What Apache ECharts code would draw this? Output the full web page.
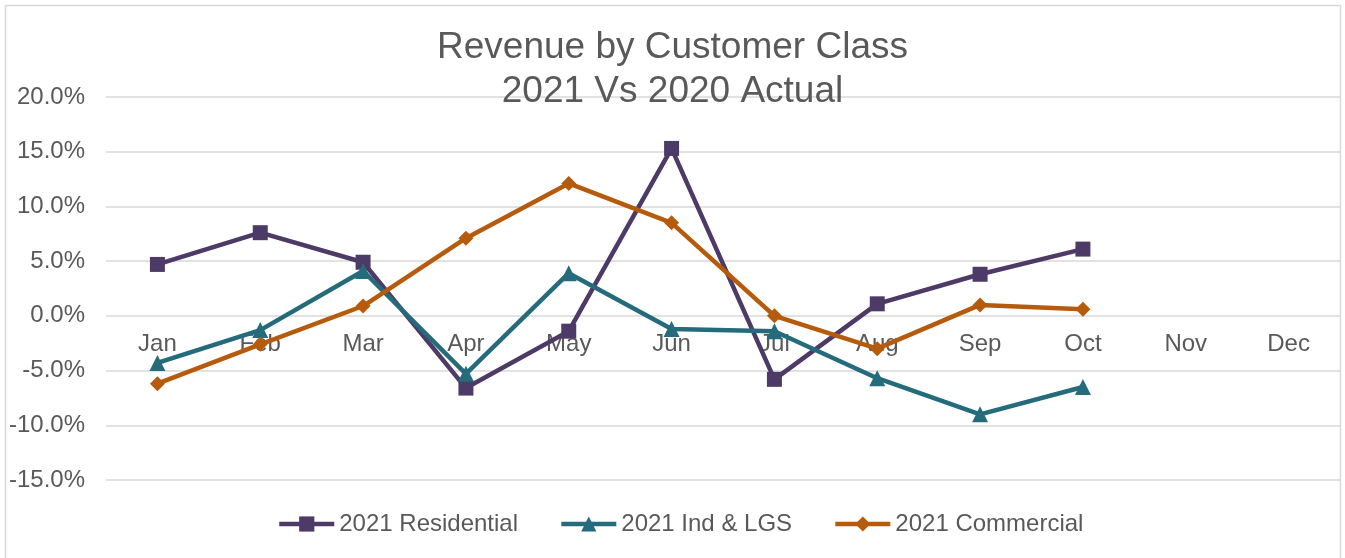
<!DOCTYPE html>
<html>
<head>
<meta charset="utf-8">
<script src="https://cdn.jsdelivr.net/npm/echarts@6/dist/echarts.min.js"></script>
<style>
html,body{margin:0;padding:0;background:#fff;}
#chart{width:1345px;height:558px;}
</style>
</head>
<body>
<div id="chart"></div>
<script>
const titleText = 'Revenue by Customer Class\n2021 Vs 2020 Actual';
const months = ['Jan','Feb','Mar','Apr','May','Jun','Jul','Aug','Sep','Oct','Nov','Dec'];
const residential = [4.7, 7.6, 4.9, -6.6, -1.4, 15.3, -5.8, 1.1, 3.8, 6.1, null, null];
const indLgs = [-4.3, -1.3, 4.1, -5.3, 3.9, -1.2, -1.4, -5.7, -9.0, -6.5, null, null];
const commercial = [-6.2, -2.6, 0.9, 7.1, 12.1, 8.5, 0.0, -3.0, 1.0, 0.6, null, null];
const seriesNames = ['2021 Residential', '2021 Ind & LGS', '2021 Commercial'];

const textColor = '#595959';
const font = 'Liberation Sans, Arial, sans-serif';
const chart = echarts.init(document.getElementById('chart'), null, {renderer: 'canvas'});

function mk(name, data, color, symbol, size) {
  return {
    name: name, type: 'line', data: data,
    symbol: symbol, symbolSize: size,
    showSymbol: true,
    lineStyle: {color: color, width: 4.5},
    itemStyle: {color: color},
    emphasis: {disabled: true},
    animation: false
  };
}

chart.setOption({
  animation: false,
  backgroundColor: '#fff',
  graphic: [{
    type: 'rect', shape: {x: 5.5, y: 5.5, width: 1335, height: 560},
    style: {fill: 'none', stroke: '#d9d9d9', lineWidth: 1.5}, silent: true, z: -1
  }],
  title: {
    text: titleText, left: 'center', top: 26, padding: 0,
    textStyle: {fontFamily: font, fontSize: 37, fontWeight: 'normal', color: textColor, lineHeight: 44}
  },
  grid: {left: 106, right: 5, top: 97, height: 383, containLabel: false, outerBoundsMode: 'none'},
  legend: {
    left: 272, top: 507, itemGap: 41, itemWidth: 55, itemHeight: 19,
    lineStyle: {width: 4.5},
    textStyle: {fontFamily: font, fontSize: 24, color: textColor},
    data: seriesNames
  },
  xAxis: {
    type: 'category', data: months, boundaryGap: true, offset: -165,
    axisLine: {show: false, onZero: false},
    axisTick: {show: false},
    axisLabel: {fontFamily: font, fontSize: 24, color: textColor, margin: 17, interval: 0},
    splitLine: {show: false}
  },
  yAxis: {
    type: 'value', min: -15, max: 20, interval: 5,
    axisLine: {show: false}, axisTick: {show: false},
    axisLabel: {fontFamily: font, fontSize: 24, color: textColor, margin: 21,
      formatter: function (v) { return v.toFixed(1) + '%'; }},
    splitLine: {show: true, lineStyle: {color: '#d9d9d9', width: 1.5}}
  },
  series: [
    mk(seriesNames[0], residential, '#4e3a66', 'rect', 15),
    mk(seriesNames[1], indLgs, '#246b7b', 'triangle', 16),
    mk(seriesNames[2], commercial, '#b65a0c', 'diamond', 15)
  ]
});
</script>
</body>
</html>
